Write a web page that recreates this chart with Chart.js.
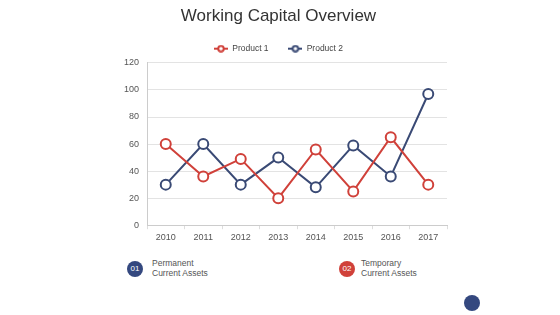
<!DOCTYPE html>
<html>
<head>
<meta charset="utf-8">
<script src="https://cdn.jsdelivr.net/npm/chart.js@4"></script>
<style>
    body { margin: 0; background: #fff; font-family: Arial, "Liberation Sans", sans-serif; }
    #wrap { position: absolute; left: 0; top: 0; width: 560px; height: 250px; }
    .badge { position: absolute; width: 16px; height: 16px; border-radius: 50%; color: #fff; font-size: 8px; line-height: 16px; text-align: center; }
    .note { position: absolute; font-size: 8.5px; line-height: 10px; color: #555; }
    .dot { position: absolute; left: 464px; top: 295px; width: 16px; height: 16px; border-radius: 50%; background: #34487f; }
</style>
</head>
<body>
<div id="wrap"><canvas id="chart"></canvas></div>
<div class="badge" style="left:127px; top:261px; background:#34487f;">01</div>
<div class="note" style="left:152px; top:258px;">Permanent<br>Current Assets</div>
<div class="badge" style="left:339px; top:261px; background:#d0413a;">02</div>
<div class="note" style="left:361px; top:258px;">Temporary<br>Current Assets</div>
<div class="dot"></div>
<script>
// Данные графика
const years = ['2010', '2011', '2012', '2013', '2014', '2015', '2016', '2017'];
const product1 = [60, 36, 49, 20, 56, 25, 65, 30];
const product2 = [30, 60, 30, 50, 28, 59, 36, 97];
const yTicks = [0, 20, 40, 60, 80, 100, 120];

const red = '#d0413a';
const navy = '#3a4a75';

// Маркер легенды: линия с кружком
function legendMarker(color) {
    const c = document.createElement('canvas');
    c.width = 14;
    c.height = 8;
    const g = c.getContext('2d');
    g.strokeStyle = color;
    g.lineWidth = 2;
    g.beginPath();
    g.moveTo(0, 4);
    g.lineTo(14, 4);
    g.stroke();
    g.fillStyle = '#fff';
    g.beginPath();
    g.arc(7, 4, 2.8, 0, Math.PI * 2);
    g.fill();
    g.stroke();
    return c;
}

document.addEventListener('DOMContentLoaded', function() {
    const ctx = document.getElementById('chart');
    const markers = [legendMarker(red), legendMarker(navy)];
    new Chart(ctx, {
        type: 'line',
        data: {
            labels: years,
            datasets: [{
                label: 'Product 1',
                data: product1,
                borderColor: red,
                backgroundColor: '#fff',
                borderWidth: 2,
                pointRadius: 5,
                pointBorderWidth: 2,
                tension: 0
            }, {
                label: 'Product 2',
                data: product2,
                borderColor: navy,
                backgroundColor: '#fff',
                borderWidth: 2,
                pointRadius: 5,
                pointBorderWidth: 2,
                tension: 0
            }]
        },
        options: {
            responsive: true,
            maintainAspectRatio: false,
            animation: false,
            layout: { padding: { left: 110, right: 113, top: 4, bottom: 4 } },
            plugins: {
                title: {
                    display: true,
                    text: 'Working Capital Overview',
                    color: '#333',
                    font: { size: 17, weight: 'normal', family: 'Arial, Liberation Sans' },
                    padding: { top: 2, bottom: 10 }
                },
                legend: {
                    labels: {
                        usePointStyle: true,
                        pointStyleWidth: 14,
                        boxHeight: 8,
                        color: '#444',
                        font: { size: 8.5, family: 'Arial, Liberation Sans' },
                        padding: 8,
                        generateLabels: chart => {
                            const items = Chart.defaults.plugins.legend.labels.generateLabels(chart);
                            items.forEach((item, i) => {
                                item.pointStyle = markers[i];
                                if (i === 0) item.text = item.text + '     ';
                            });
                            return items;
                        }
                    }
                },
                tooltip: { enabled: false }
            },
            scales: {
                x: {
                    offset: true,
                    grid: { offset: true, drawOnChartArea: false, drawTicks: true, tickLength: 4, color: '#ddd' },
                    border: { color: '#ccc' },
                    ticks: { color: '#555', font: { size: 9, family: 'Arial, Liberation Sans' }, padding: 3 }
                },
                y: {
                    min: 0,
                    max: 120,
                    afterBuildTicks: axis => { axis.ticks = yTicks.map(v => ({ value: v })); },
                    afterFit: axis => { axis.width = 37; },
                    grid: { color: '#e3e3e3', drawTicks: false },
                    border: { color: '#ccc' },
                    ticks: { color: '#555', font: { size: 9, family: 'Arial, Liberation Sans' }, padding: 8 }
                }
            }
        }
    });
});
</script>
</body>
</html>
